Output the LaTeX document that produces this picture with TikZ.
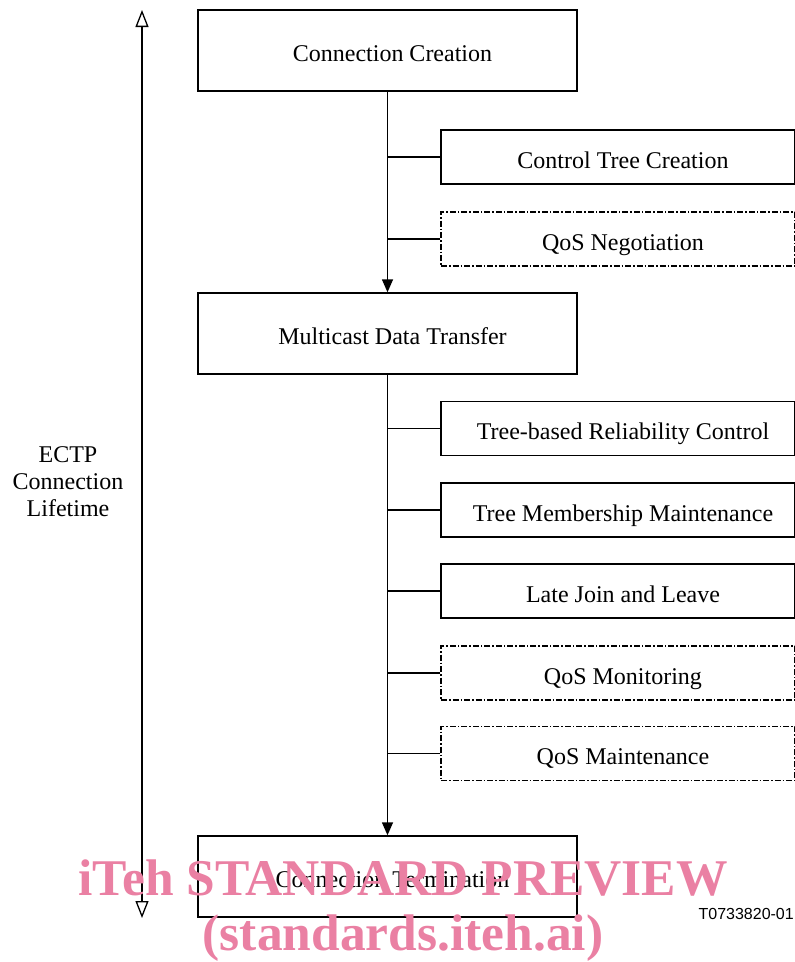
\documentclass[tikz,border=0pt]{standalone}
\usepackage{fontspec}
\setmainfont{Liberation Serif}
\newfontfamily\labelsans{Liberation Sans}
\usetikzlibrary{arrows.meta}
\definecolor{wmpink}{RGB}{234,128,163}
\tikzset{
  x=1pt, y=-1pt,
  boxfont/.style={font=\fontsize{24}{28}\selectfont, text height=22pt, text depth=0pt, execute at begin node=\hspace*{10pt}},
  mainbox/.style={draw, line width=1.4pt, minimum width=379pt, minimum height=81pt, inner sep=0pt, boxfont},
  subbox/.style={draw, line width=1.4pt, minimum width=354pt, minimum height=54pt, inner sep=0pt, boxfont},
  optbox/.style={subbox, dash pattern=on 6pt off 2pt on 1.5pt off 2pt},
  link/.style={line width=1.4pt},
  flow/.style={line width=1.4pt, -{Triangle[length=13pt,width=11pt]}},
  wmark/.style={text=wmpink, font=\bfseries\fontsize{51.5}{56}\selectfont, inner sep=0pt}
}
\begin{document}
\begin{tikzpicture}
\useasboundingbox (0,0) rectangle (795,962);
% main column
\node[mainbox] (cc) at (387.5,50.5) {Connection Creation};
\node[mainbox] (mdt) at (387.5,333.5) {Multicast Data Transfer};
\node[mainbox] (ct) at (387.5,876.5) {Connection Termination};
% sub boxes
\node[subbox] (ctc) at (618,157) {Control Tree Creation};
\node[optbox] (qn) at (618,239) {QoS Negotiation};
\node[subbox] (trc) at (618,428.5) {Tree-based Reliability Control};
\node[subbox] (tmm) at (618,510) {Tree Membership Maintenance};
\node[subbox] (ljl) at (618,591) {Late Join and Leave};
\node[optbox] (qm) at (618,673) {QoS Monitoring};
\node[optbox] (qma) at (618,753.5) {QoS Maintenance};
% trunks
\draw[flow] (cc.south) -- (mdt.north);
\draw[flow] (mdt.south) -- (ct.north);
% branches
\foreach \b in {ctc,qn} {\draw[link] (\b.west) -- (\b.west -| cc.south);}
\foreach \b in {trc,tmm,ljl,qm,qma} {\draw[link] (\b.west) -- (\b.west -| mdt.south);}
% lifetime arrow
\coordinate (lt) at (142,10);
\coordinate (lb) at (142,918);
\draw[line width=1.3pt, {Triangle[open,length=17pt,width=13pt]}-{Triangle[open,length=17pt,width=13pt]}] (lt) -- (lb);
\node[align=center, font=\fontsize{24}{27}\selectfont, inner sep=0pt] (lbl) at (68,482) {ECTP\\Connection\\Lifetime};
% figure id
\node[anchor=east, font=\labelsans\fontsize{16}{18}\selectfont, inner sep=0pt] (fid) at (794,914) {T0733820-01};
% watermark
\node[wmark] (wm1) at (403,878) {iTeh STANDARD PREVIEW};
\node[wmark] (wm2) at (403,938) {(standards.iteh.ai)};
\end{tikzpicture}
\end{document}
